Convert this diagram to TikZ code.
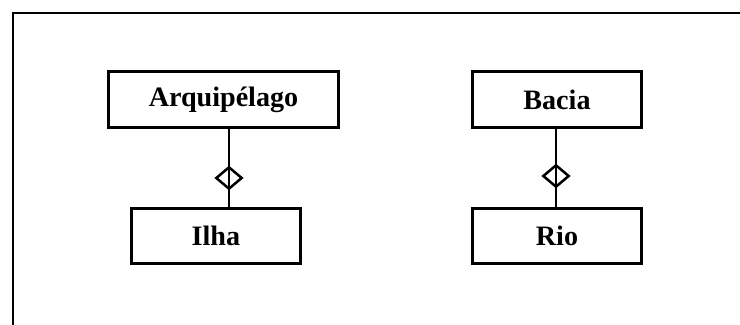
\documentclass[tikz,border=0pt]{standalone}
\usepackage{fontspec}
\setmainfont{Liberation Serif}
\usepackage{tikz}
\usetikzlibrary{positioning,shapes.geometric}

\begin{document}
\begin{tikzpicture}[
		auto,
		node distance=1.9cm,
		font=\normalfont,
		classe/.style={
			rectangle,
			draw=black,
			line width=2.1pt,
			text centered,
			minimum height=1.38cm,
			font=\fontsize{20}{24}\selectfont\bfseries,
			fill=white
		},
		losango/.style={
			diamond,
			draw=black,
			line width=1.8pt,
			inner sep=0pt,
			minimum width=0.66cm,
			minimum height=0.56cm
		},
		ligacao/.style={
			line width=1.5pt
		}
		]
		% page and outer frame (only top and left edges show)
		\useasboundingbox (0,0) rectangle (18.5,-8.125);
		\draw [line width=2pt] (0.325,-8.125) |- (18.5,-0.325);
		
		% We start by placing the blocks
		\node [classe, minimum width=5.75cm] (arquipelago) at (5.5875,-2.4875) {Arquipélago};
		\node [classe, minimum width=4.225cm, below=1.95cm of arquipelago, xshift=-0.19cm] (ilha) {Ilha};
		
		\node [classe, minimum width=4.225cm] (bacia) at (13.925,-2.4875) {Bacia};
		\node [classe, minimum width=4.225cm, below=1.95cm of bacia] (rio) {Rio};
		
		% aggregation diamonds
		\node [losango] (agg1) at (5.725,-4.45) {};
		\node [losango] (agg2) at (13.9,-4.4) {};
		
		\draw [ligacao] (agg1.center |- arquipelago.south) -- (agg1.center |- ilha.north);
		\draw [ligacao] (agg2.center |- bacia.south) -- (agg2.center |- rio.north);
		
\end{tikzpicture}
\end{document}
